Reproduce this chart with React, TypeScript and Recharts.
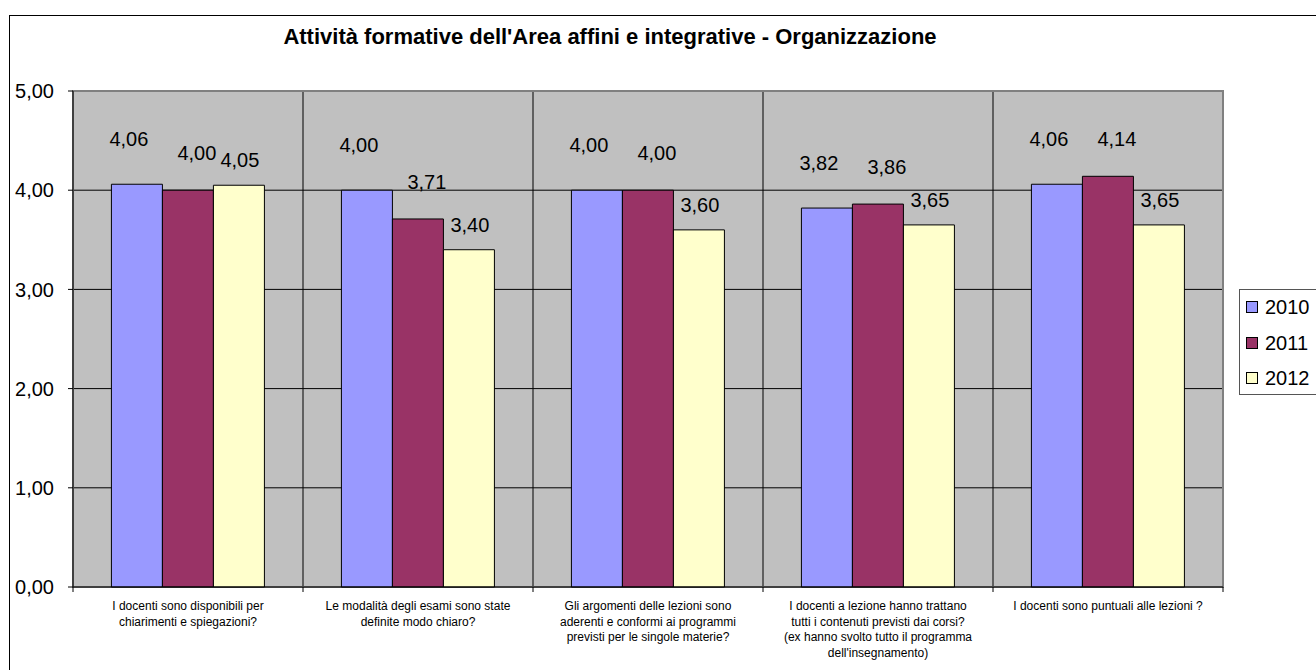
import React from 'react'
import {
  Bar,
  BarChart,
  CartesianGrid,
  LabelList,
  Legend,
  ReferenceArea,
  XAxis,
  YAxis,
} from 'recharts'

const title = "Attività formative dell'Area affini e integrative - Organizzazione"

const categories = [
  'I docenti sono disponibili  per\nchiarimenti e spiegazioni?',
  'Le modalità degli esami sono state\ndefinite modo chiaro?',
  'Gli argomenti delle lezioni sono\naderenti e conformi ai programmi\nprevisti per le singole materie?',
  "I docenti a lezione hanno trattano\ntutti i contenuti previsti dai corsi?\n(ex hanno svolto tutto il programma\ndell'insegnamento)",
  'I docenti sono puntuali alle lezioni ?',
]

const years = ['2010', '2011', '2012']
const values2010 = [4.06, 4.0, 4.0, 3.82, 4.06]
const values2011 = [4.0, 3.71, 4.0, 3.86, 4.14]
const values2012 = [4.05, 3.4, 3.6, 3.65, 3.65]
const yTicks = [0, 1, 2, 3, 4, 5]

const data = categories.map((name, i) => ({
  name,
  '2010': values2010[i],
  '2011': values2011[i],
  '2012': values2012[i],
}))

// bar fill + label nudge per series (excel placed the labels a bit off-centre)
const seriesStyle: Record<string, { fill: string; dx: number; dy: number }> = {
  '2010': { fill: '#9999FF', dx: -8, dy: -45 },
  '2011': { fill: '#993366', dx: 9, dy: -37 },
  '2012': { fill: '#FFFFCC', dx: 1, dy: -25 },
}

const font = '"Liberation Sans", Arial, sans-serif'
const narrowFont = '"Liberation Sans Narrow", "Arial Narrow", "Liberation Sans", Arial, sans-serif'

const fmt = (v: number) => v.toFixed(2).replace('.', ',')

function CategoryTick(props: any) {
  const { x, y, payload, index, visibleTicksCount, width } = props
  const half = payload?.offset ? payload.offset : width / visibleTicksCount / 2
  const lines = String(payload.value).split('\n')
  return (
    <g>
      <line x1={x - half} x2={x - half} y1={y} y2={y + 5} stroke="#000" />
      {index === visibleTicksCount - 1 && (
        <line x1={x + half} x2={x + half} y1={y} y2={y + 5} stroke="#000" />
      )}
      <text x={x} y={y + 23} textAnchor="middle" fontSize={12} fontFamily={narrowFont} fill="#000">
        {lines.map((l, i) => (
          <tspan key={i} x={x} dy={i === 0 ? 0 : 15.5}>
            {l}
          </tspan>
        ))}
      </text>
    </g>
  )
}

const makeLabel = (year: string) => (props: any) => {
  const { x, y, width, value } = props
  const s = seriesStyle[year]
  return (
    <text
      x={x + width / 2 + s.dx}
      y={y + s.dy + 7}
      textAnchor="middle"
      fontSize={20}
      fontFamily={font}
      fill="#000"
    >
      {fmt(value)}
    </text>
  )
}

function LegendBox() {
  return (
    <div
      style={{
        border: '1px solid #555',
        background: '#fff',
        height: 104,
        width: 120,
        fontFamily: font,
        fontSize: 20,
        color: '#000',
        paddingTop: 0,
      }}
    >
      {years.map((y, i) => (
        <div
          key={y}
          style={{
            position: 'absolute',
            left: 7,
            top: 18 + i * 35.5 - 11,
            height: 22,
            display: 'flex',
            alignItems: 'center',
          }}
        >
          <span
            style={{
              display: 'inline-block',
              width: 10,
              height: 10,
              border: '1px solid #000',
              background: seriesStyle[y].fill,
              marginRight: 7,
            }}
          />
          <span style={{ lineHeight: '22px' }}>{y}</span>
        </div>
      ))}
    </div>
  )
}

export default function App() {
  return (
    <div
      style={{
        position: 'absolute',
        left: 0,
        top: 0,
        width: 1316,
        height: 670,
        overflow: 'hidden',
        background: '#fff',
        fontFamily: font,
      }}
    >
      <div
        style={{
          position: 'absolute',
          left: 9,
          top: 15,
          width: 1400,
          height: 800,
          border: '1px solid #000',
        }}
      />
      <div
        style={{
          position: 'absolute',
          left: 0,
          top: 26,
          width: 1220,
          textAlign: 'center',
          fontSize: 22,
          lineHeight: '22px',
          fontWeight: 'bold',
          color: '#000',
        }}
      >
        {title}
      </div>
      <div style={{ position: 'absolute', left: 0, top: 0 }}>
        <BarChart
          width={1316}
          height={670}
          data={data}
          margin={{ top: 91, right: 93, bottom: 3, left: 13 }}
          barCategoryGap="16.7%"
          barGap={0}
        >
          <CartesianGrid
            fill="#C0C0C0"
            stroke="#000"
            strokeOpacity={1}
            verticalCoordinatesGenerator={({ offset }: any) =>
              categories.slice(1).map((_, i) => offset.left + ((i + 1) * offset.width) / categories.length)
            }
          />
          <ReferenceArea y1={0} y2={5} fill="none" stroke="#808080" strokeWidth={2} />
          <XAxis
            dataKey="name"
            interval={0}
            height={80}
            tickSize={0}
            tickMargin={0}
            tickLine={false}
            axisLine={{ stroke: '#000' }}
            tick={<CategoryTick />}
          />
          <YAxis
            width={60}
            domain={[0, 5]}
            ticks={yTicks}
            tickFormatter={fmt}
            tickSize={5}
            tickMargin={14}
            axisLine={{ stroke: '#000' }}
            tickLine={{ stroke: '#000' }}
            tick={{ fill: '#000', fontSize: 20, fontFamily: font }}
          />
          {years.map((y) => (
            <Bar
              key={y}
              dataKey={y}
              fill={seriesStyle[y].fill}
              stroke="#000"
              strokeWidth={1}
              isAnimationActive={false}
            >
              <LabelList dataKey={y} content={makeLabel(y)} />
            </Bar>
          ))}
          <Legend
            layout="vertical"
            align="center"
            verticalAlign="middle"
            wrapperStyle={{ left: 1239, top: 289, width: 120 }}
            content={() => <LegendBox />}
          />
        </BarChart>
      </div>
    </div>
  )
}
